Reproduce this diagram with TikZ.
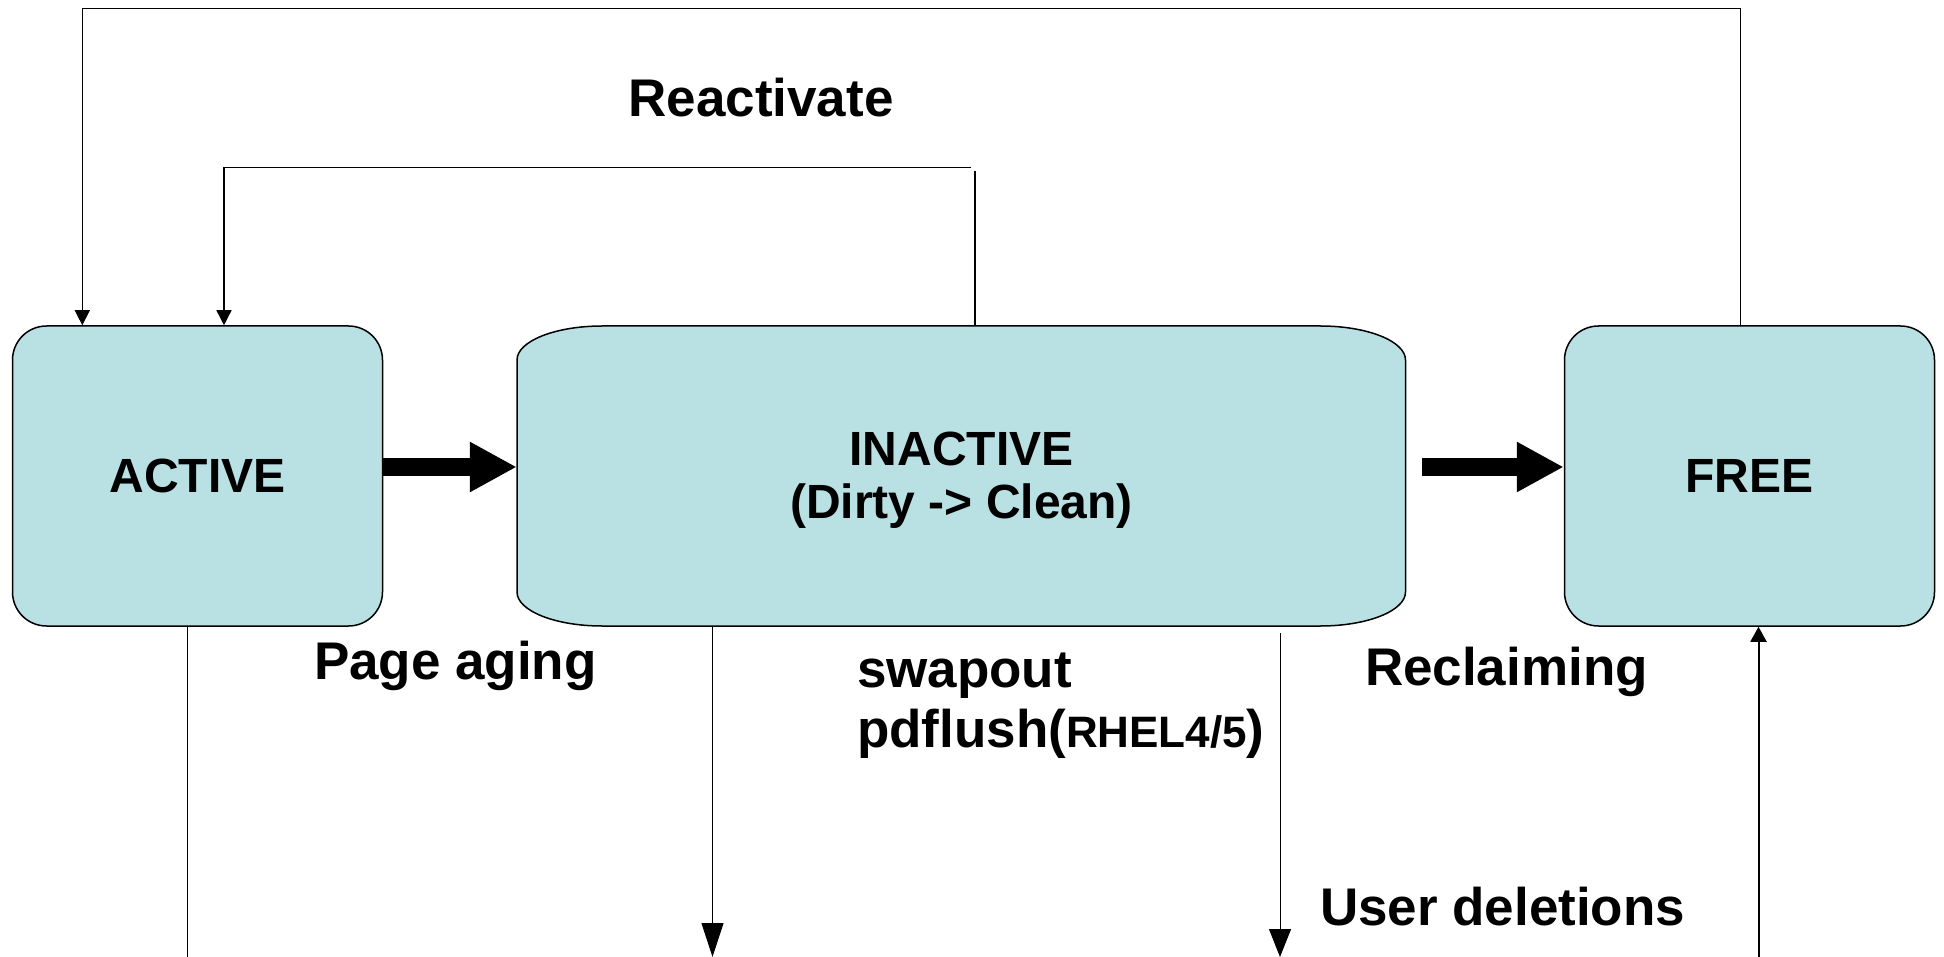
\documentclass[tikz,border=0pt]{standalone}
\usepackage{fontspec}
\setmainfont{Liberation Sans}
\usetikzlibrary{arrows.meta,calc}
\definecolor{boxfill}{RGB}{185,224,227}
\newcommand\labfont{\fontsize{53}{60}\selectfont\bfseries}
\newcommand\boxfont{\fontsize{48}{54}\selectfont\bfseries}
\newcommand\smallfont{\fontsize{44}{50}\selectfont\bfseries}
\tikzset{
  statebox/.style={draw=black, line width=1.5pt, fill=boxfill, rounded corners=34pt,
    minimum width=370pt, minimum height=300pt, inner sep=0pt, font=\boxfont},
  holder/.style={minimum width=888.5pt, minimum height=300pt, inner sep=0pt},
  txt/.style={inner sep=0pt, outer sep=0pt},
  conn/.style={line width=1.4pt, -{Triangle[length=15pt,width=15pt]}},
  thinline/.style={line width=1pt},
  bigdown/.style={line width=1pt, -{Triangle[length=34pt,width=22pt]}},
  fat/.style={line width=17.4pt, -{Triangle[length=47pt,width=47pt]}},
}
\begin{document}
\begin{tikzpicture}[x=1pt,y=-1pt]
\useasboundingbox (0,0) rectangle (1944,957);

% boxes
\node[statebox] (active) at (197.5,476) {ACTIVE};
\node[statebox] (free) at (1749.5,476) {FREE};
\node[holder] (inactive) at (961.25,476) {};
\draw[line width=1.5pt, fill=boxfill]
  (602,326) -- (1320.5,326)
  arc[start angle=90,end angle=0,x radius=85pt,y radius=34pt]
  -- (1405.5,592)
  arc[start angle=0,end angle=-90,x radius=85pt,y radius=34pt]
  -- (602,626)
  arc[start angle=270,end angle=180,x radius=85pt,y radius=34pt]
  -- (517,360)
  arc[start angle=180,end angle=90,x radius=85pt,y radius=34pt]
  -- cycle;
\node[txt, anchor=base, font=\boxfont] (inact1) at (961.5,465) {INACTIVE};
\node[txt, anchor=base, font=\boxfont] (inact2) at (961.5,518.5) {(Dirty -> Clean)};

% thick arrows
\draw[fat] (active.east |- 0,467) -- (inactive.west |- 0,467);
\draw[fat] (1422,467) coordinate (fatstart) -- (free.west |- 0,467);

% top loops
\draw[conn] ($(free.north)+(-8.8,0)$) |- (82.3,8.3) -- ($(active.north)+(-115.2,0)$);
\coordinate (reactgap) at (975,171);
\draw[line width=1.3pt] ($(inactive.north)+(13.75,0)$) -- (reactgap);
\coordinate (reactstart) at (971,167.3);
\draw[conn, line width=1.3pt] (reactstart) -| ($(active.north)+(26.5,0)$);

% bottom lines
\coordinate (actend) at (187.5,957);
\draw[thinline] ($(active.south)+(-10,0)$) -- (actend);
\coordinate (swapend) at (712.5,957);
\draw[bigdown] ($(inactive.south)+(-248.75,0)$) -- (swapend);
\coordinate (delstart) at (1280,633);
\coordinate (delend) at (1280,957);
\draw[line width=1pt, -{Triangle[length=28pt,width=22pt]}] (delstart) -- (delend);
\coordinate (freestart) at (1758.5,957);
\draw[line width=2pt, -{Triangle[length=15pt,width=16pt]}] (freestart) -- ($(free.south)+(9,0)$);

% labels
\node[txt, anchor=base, font=\labfont] (react) at (761,117) {Reactivate};
\node[txt, anchor=base west, font=\labfont] (aging) at (314,679) {Page aging};
\node[txt, anchor=base west, font=\labfont] (swap) at (857,687) {swapout};
\node[txt, anchor=base west, font=\labfont] (pdf) at (857,747) {pdflush({\smallfont RHEL4/5})};
\node[txt, anchor=base west, font=\labfont] (recl) at (1365,685) {Reclaiming};
\node[txt, anchor=base west, font=\labfont] (udel) at (1320,925) {User deletions};
\end{tikzpicture}
\end{document}
